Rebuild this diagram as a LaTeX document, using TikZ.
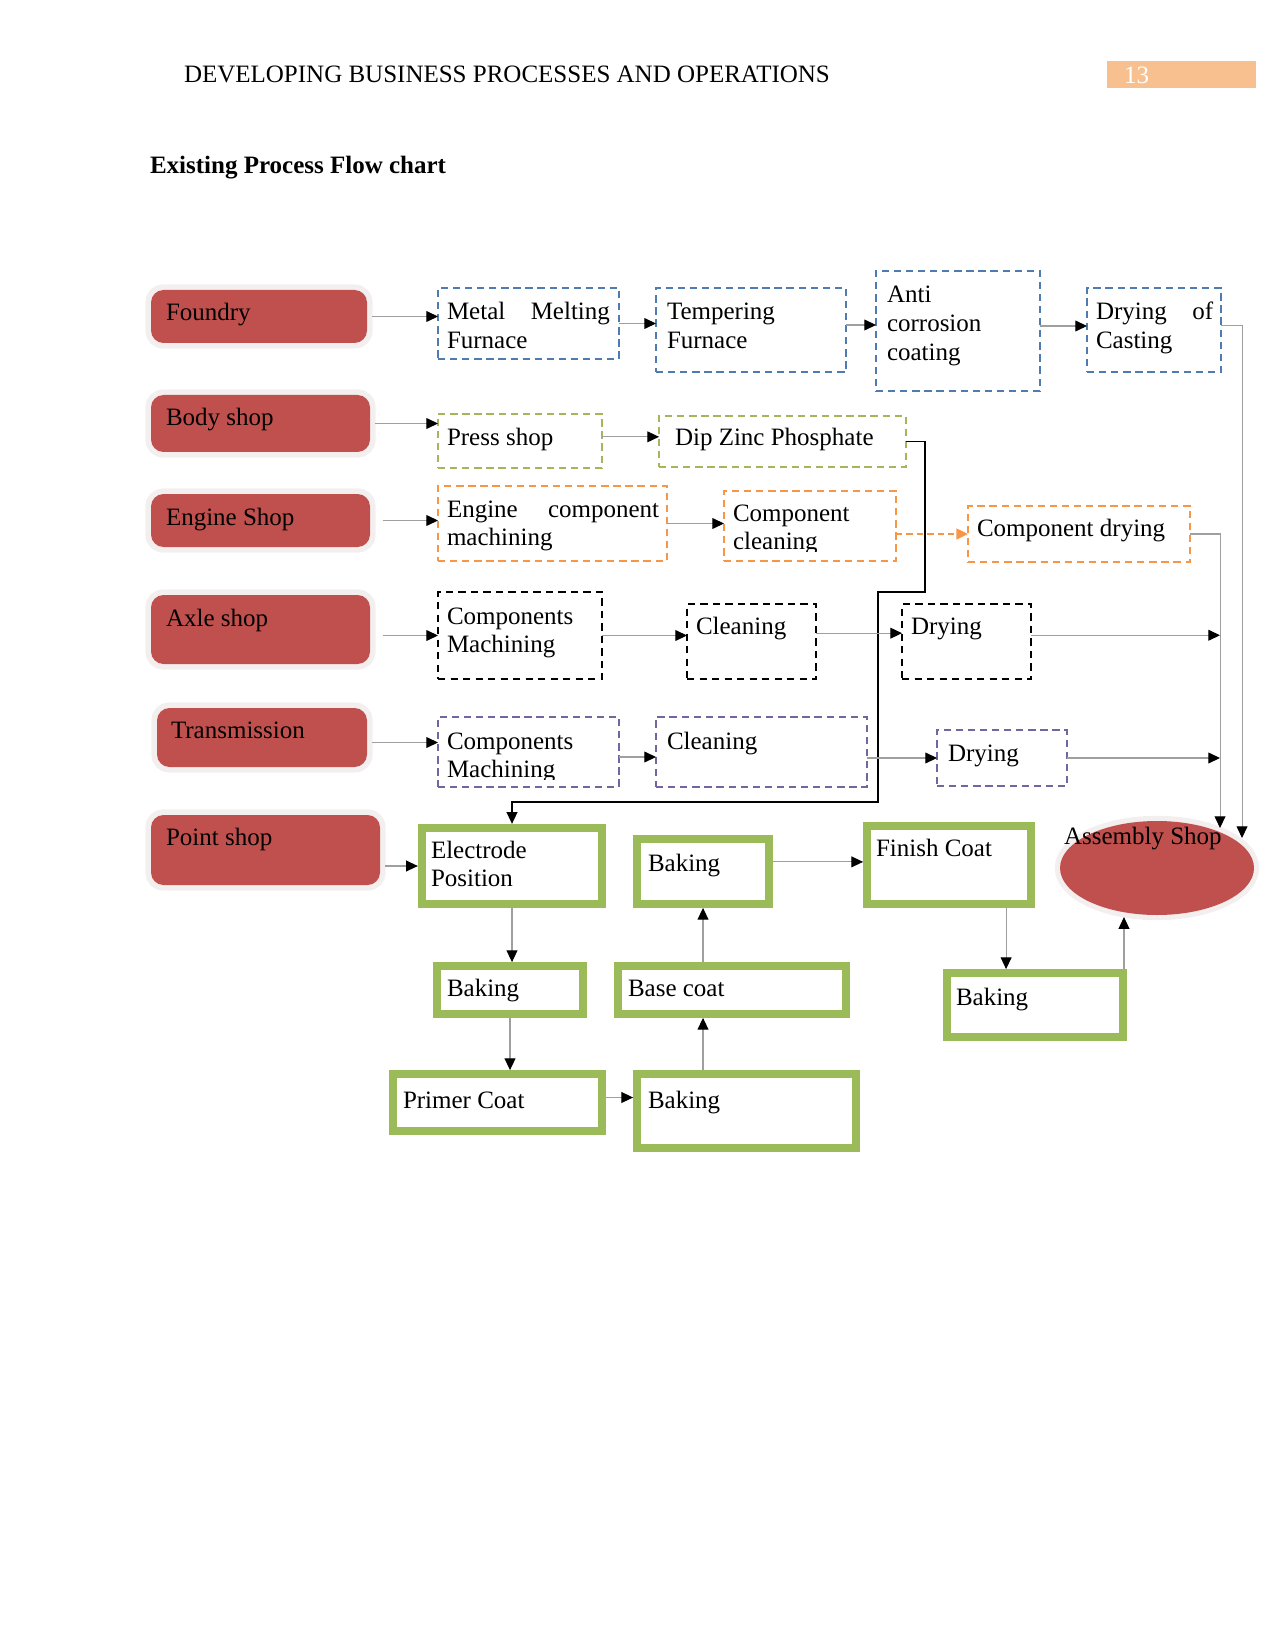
\documentclass[tikz,border=0pt]{standalone}
\usepackage{fontspec}
\setmainfont{Liberation Serif}
\usetikzlibrary{arrows.meta,shapes.geometric}
\definecolor{redbox}{HTML}{C0504D}
\definecolor{glow}{HTML}{F3EFEF}
\definecolor{blueb}{HTML}{4F7BB0}
\definecolor{oliveb}{HTML}{A5B55A}
\definecolor{orangeb}{HTML}{F79646}
\definecolor{purpleb}{HTML}{7465A0}
\definecolor{greenb}{HTML}{9BBB59}
\definecolor{peach}{HTML}{F9C08F}
\newcommand\ml[1]{\begin{tabular}[t]{@{}l@{}}#1\end{tabular}}
\begin{document}
\begin{tikzpicture}[x=0.48pt,y=-0.48pt,
  txt/.style={anchor=base west, inner sep=0pt, outer sep=0pt, font=\fontsize{12}{13.9}\selectfont},
  sz/.style n args={2}{minimum width=#1*0.48pt, minimum height=#2*0.48pt},
  shop/.style={fill=redbox, draw=none, rounded corners=6pt, inner sep=0pt, outer sep=0pt,
     preaction={draw=glow, line width=5.5pt, rounded corners=6pt}},
  dbox/.style={draw=#1, dash pattern=on 3.5pt off 2.3pt, line width=0.8pt, inner sep=0pt, outer sep=0pt},
  kbox/.style={draw=black, dash pattern=on 3.5pt off 2.5pt, line width=1pt, inner sep=0pt, outer sep=0pt},
  gbox/.style={draw=greenb, line width=4pt, fill=white, inner sep=0pt, outer sep=0pt},
  conn/.style={draw=gray!75, line width=0.5pt, -{Triangle[length=5.6pt,width=5.2pt,color=black]}},
  blk/.style={draw=black, line width=0.6pt, -{Triangle[length=5.6pt,width=5.2pt,color=black]}},
  oconn/.style={draw=orangeb, line width=0.9pt, dash pattern=on 3pt off 2pt, -{Triangle[length=5.6pt,width=5.2pt,color=orangeb]}}
]
\useasboundingbox (0,0) rectangle (1275,1650);

% header
\node[txt] (hdr) at (184,83) {DEVELOPING BUSINESS PROCESSES AND OPERATIONS};
\node[fill=peach, inner sep=0pt, outer sep=0pt, sz={149}{27}] (pg) at (1181.5,74.5) {};
\node[txt, text=white] (pgnum) at (1124,84) {13};
\node[txt, font=\fontsize{12}{13.9}\selectfont\bfseries] (title) at (150,174) {Existing Process Flow chart};

% shop boxes
\node[shop, sz={216}{53}] (foundry) at (259,316.5) {};
\node[shop, sz={219}{57}] (body) at (260.5,423.5) {};
\node[shop, sz={219}{53}] (engine) at (260.5,520.5) {};
\node[shop, sz={219}{69}] (axle) at (260.5,629.5) {};
\node[shop, sz={210}{59}] (trans) at (262,737.5) {};
\node[shop, sz={229}{70}] (point) at (265.5,850) {};
\node[txt] (t-foundry) at (166,321) {Foundry};
\node[txt] (t-body) at (166,425) {Body shop};
\node[txt] (t-engine) at (166,525) {Engine Shop};
\node[txt] (t-axle) at (166,626) {Axle shop};
\node[txt] (t-trans) at (171,738) {Transmission};
\node[txt] (t-point) at (166,845) {Point shop};

% row 1 (blue)
\node[dbox=blueb, sz={181}{71}] (metal) at (528.5,323.5) {};
\node[dbox=blueb, sz={190}{84}] (temper) at (751,330) {};
\node[dbox=blueb, sz={164}{120}] (anti) at (958,331) {};
\node[dbox=blueb, sz={134}{84}] (dryc) at (1154,330) {};
\node[txt] (t-metal) at (447,320) {\ml{\makebox[78.2pt][s]{Metal Melting}\\Furnace}};
\node[txt] (t-temper) at (667,320) {\ml{Tempering\\Furnace}};
\node[txt] (t-anti) at (887,303) {\ml{Anti\\corrosion\\coating}};
\node[txt] (t-dryc) at (1096,320) {\ml{\makebox[56.2pt][s]{Drying of}\\Casting}};

% row 2 (olive)
\node[dbox=oliveb, sz={164}{54}] (press) at (520,441) {};
\node[dbox=oliveb, sz={247}{51}] (dip) at (782.5,441.5) {};
\node[txt] (t-press) at (447,446) {Press shop};
\node[txt] (t-dip) at (675,446) {Dip Zinc Phosphate};

% row 3 (orange)
\node[dbox=orangeb, sz={229}{75}] (ecm) at (552.5,523.5) {};
\node[dbox=orangeb, sz={172}{70}] (ccl) at (810,526) {};
\node[dbox=orangeb, sz={222}{56}] (cdry) at (1079,534) {};
\node[txt] (t-ecm) at (447,517) {\ml{\makebox[101.8pt][s]{Engine component}\\machining}};
\begin{scope}
  \clip (724,491) rectangle (896,551);
  \node[txt] (t-ccl) at (733,521) {\ml{Component\\cleaning}};
\end{scope}
\node[txt] (t-cdry) at (977,536) {Component drying};

% row 4 (black)
\node[kbox, sz={164}{87}] (cm1) at (520,635.5) {};
\node[kbox, sz={129}{75}] (cl1) at (751.5,641.5) {};
\node[kbox, sz={129}{75}] (dr1) at (966.5,641.5) {};
\node[txt] (t-cm1) at (447,624) {\ml{Components\\Machining}};
\node[txt] (t-cl1) at (696,634) {Cleaning};
\node[txt] (t-dr1) at (911,634) {Drying};

% row 5 (purple)
\node[dbox=purpleb, sz={181}{70}] (cm2) at (528.5,752) {};
\node[dbox=purpleb, sz={211}{70}] (cl2) at (761.5,752) {};
\node[dbox=purpleb, sz={130}{56}] (dr2) at (1002,758) {};
\begin{scope}
  \clip (438,717) rectangle (619,779);
  \node[txt] (t-cm2) at (447,749) {\ml{Components\\Machining}};
\end{scope}
\node[txt] (t-cl2) at (667,749) {Cleaning};
\node[txt] (t-dr2) at (948,761) {Drying};

% bottom (green thick)
\node[gbox, sz={180}{76}] (electrode) at (512,866) {};
\node[gbox, sz={131.5}{64.5}] (bake1) at (703,871.5) {};
\node[gbox, sz={163.5}{77.5}] (finish) at (949,865) {};
\node[gbox, sz={145.5}{47.5}] (bake2) at (510,990) {};
\node[gbox, sz={227.5}{47.5}] (base) at (732,990) {};
\node[gbox, sz={175.5}{63.5}] (bake3) at (1035,1005) {};
\node[gbox, sz={208.5}{56.5}] (primer) at (497.5,1102.5) {};
\node[gbox, sz={218.5}{73.5}] (bake4) at (746.5,1111) {};
\node[txt] (t-electrode) at (431,858) {\ml{Electrode\\Position}};
\node[txt] (t-bake1) at (648,871) {Baking};
\node[txt] (t-finish) at (876,856) {Finish Coat};
\node[txt] (t-bake2) at (447,996) {Baking};
\node[txt] (t-base) at (628,996) {Base coat};
\node[txt] (t-bake3) at (956,1005) {Baking};
\node[txt] (t-primer) at (403,1108) {Primer Coat};
\node[txt] (t-bake4) at (648,1108) {Baking};

% assembly shop
\node[ellipse, fill=redbox, inner sep=0pt, outer sep=0pt, sz={194}{94},
      preaction={draw=glow, line width=5pt}] (asm) at (1157,868) {};
\node[txt] (t-asm) at (1064,844) {Assembly Shop};

\coordinate (asmL) at (1220,828);
\coordinate (asmR) at (1242,838);
\coordinate (j1) at (925,592);
\coordinate (j2) at (878,802);

% connectors row 1
\draw[conn, shorten <=2.5pt] (foundry.east) -- (foundry.east -| metal.west);
\draw[conn] (metal.east) -- (metal.east -| temper.west);
\draw[conn] ([yshift=2.4pt]temper.east) coordinate (s1) -- (s1 -| anti.west);
\draw[conn] ([yshift=2.4pt]anti.east) coordinate (s2) -- (s2 -| dryc.west);
\draw[conn] ([yshift=2pt]dryc.east) -| (asmR);
% row 2
\draw[conn, shorten <=2.5pt] (body.east) -- (body.east -| press.west);
\draw[conn] ([yshift=2pt]press.east) coordinate (s3) -- (s3 -| dip.west);
\draw[blk, shorten >=2pt] (dip.east) -| (j1) -| (j2) -| (electrode.north);
% row 3
\draw[conn, shorten <=6pt] (engine.east) -- (engine.east -| ecm.west);
\draw[conn] (ecm.east) -- (ecm.east -| ccl.west);
\draw[oconn] (cdry.west -| ccl.east) -- (cdry.west);
\draw[conn] (cdry.east) -| (asmL);
% row 4
\draw[conn, shorten <=6pt] (axle.east |- cm1.west) -- (cm1.west);
\draw[conn] (cm1.east) -- (cm1.east -| cl1.west);
\draw[conn] ([yshift=4pt]cl1.east) coordinate (s4) -- (s4 -| dr1.west);
\draw[conn] ([yshift=3pt]dr1.east) coordinate (s5) -- (s5 -| asmL);
% row 5
\draw[conn, shorten <=2.5pt] ([yshift=-2.4pt]trans.east) coordinate (s6) -- (s6 -| cm2.west);
\draw[conn] ([yshift=-2.4pt]cm2.east) coordinate (s7) -- (s7 -| cl2.west);
\draw[conn] (dr2.west -| cl2.east) -- (dr2.west);
\draw[conn] (dr2.east) -- (dr2.east -| asmL);
% bottom
\draw[conn, shorten <=2.5pt, shorten >=2pt] (point.east |- electrode.west) -- (electrode.west);
\draw[conn, shorten <=2pt, shorten >=2pt] (electrode.south) -- (electrode.south |- bake2.north);
\draw[conn, shorten <=2pt, shorten >=2pt] (bake2.south) -- (bake2.south |- primer.north);
\draw[conn, shorten <=2pt, shorten >=2pt] ([yshift=2.4pt]primer.east) coordinate (s8) -- (s8 -| bake4.west);
\draw[conn, shorten <=2pt, shorten >=2pt] (bake4.north -| bake1.south) -- (base.south -| bake1.south);
\draw[conn, shorten <=2pt, shorten >=2pt] (base.north -| bake1.south) -- (bake1.south);
\coordinate (s9) at ([yshift=1.5pt]finish.west);
\draw[conn, shorten <=2pt, shorten >=2pt] (s9 -| bake1.east) -- (s9);
\draw[conn, shorten <=2pt, shorten >=2pt] ([xshift=27.4pt]finish.south) coordinate (s10) -- (s10 |- bake3.north);
\draw[conn, shorten <=2pt, shorten >=1pt] ([xshift=42.7pt]bake3.north) coordinate (s11) -- (s11 |- asm.south);
\end{tikzpicture}
\end{document}
